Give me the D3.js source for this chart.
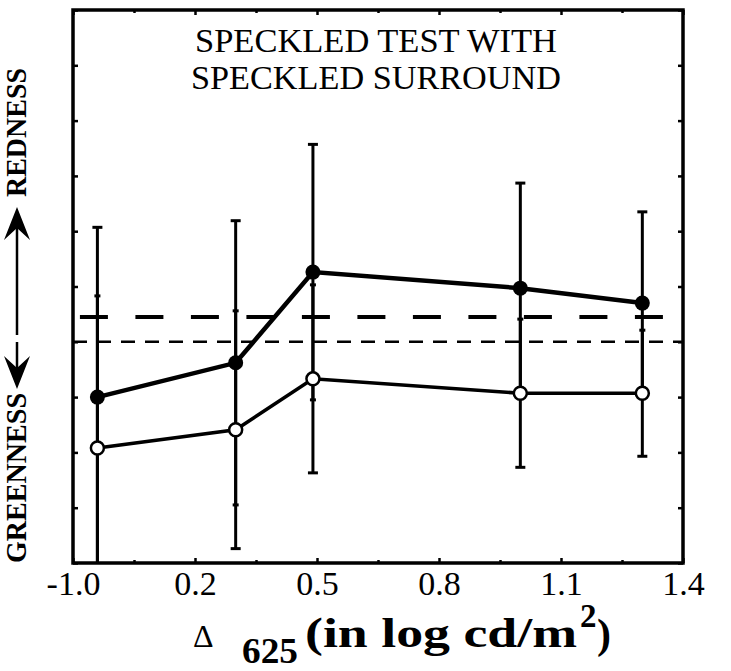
<!DOCTYPE html>
<html>
<head>
<meta charset="utf-8">
<script src="https://cdn.jsdelivr.net/npm/d3@7"></script>
<style>
  body { margin: 0; background: #fff; }
  svg text { font-family: "Liberation Serif", "DejaVu Serif", serif; }
</style>
</head>
<body>
<div class="chart"></div>
<script>
// data
const xTickValues = [-0.1, 0.2, 0.5, 0.8, 1.1, 1.4];
const xTickLabels = ["-1.0", "0.2", "0.5", "0.8", "1.1", "1.4"];
const xMinorTicks = [0.05, 0.35, 0.65, 0.95, 1.25];

const lumLevels  = [-0.04, 0.30, 0.49, 1.00, 1.30];
const filledMean = [-1.00, -0.38, 1.26, 0.97, 0.70];
const filledErr  = [3.07, 2.57, 2.31, 1.90, 1.65];
const openMean   = [-1.92, -1.59, -0.67, -0.93, -0.93];
const openErr    = [2.75, 2.15, 1.70, 1.34, 1.14];

const neutralLevel = 0;           // short dashed line
const surroundLevel = 0.45;       // long dashed line
const surroundRange = [-0.083, 1.351];

var serif = '"Liberation Serif", "DejaVu Serif", serif';

var margin = {top: 10, right: 48, bottom: 108, left: 73},
    width = 731 - margin.left - margin.right,
    height = 671 - margin.top - margin.bottom;

var svg = d3.select(".chart")
            .append("svg")
            .attr("width", 731)
            .attr("height", 671);

var g = svg.append("g")
           .attr("transform", "translate(" + margin.left + "," + margin.top + ")");

var x = d3.scaleLinear().domain([-0.1, 1.4]).range([0, width]);
var y = d3.scaleLinear().domain([-4, 6]).range([height, 0]);

svg.append("clipPath").attr("id", "plot-clip")
   .append("rect").attr("width", width).attr("height", height);

// axes: inward ticks on all four sides
var bottom = g.append("g")
   .attr("transform", "translate(0," + height + ")")
   .call(d3.axisBottom(x).tickValues(xTickValues).tickSize(-5).tickPadding(8)
           .tickFormat((d, i) => xTickLabels[i]));
bottom.attr("font-family", serif);
bottom.selectAll("text").style("font-size", "34px").style("font-family", serif).attr("fill", "#000");

g.append("g").attr("transform", "translate(0," + height + ")")
   .call(d3.axisBottom(x).tickValues(xMinorTicks).tickSize(-3).tickFormat(""));
g.append("g").call(d3.axisTop(x).tickValues(xTickValues).tickSize(-5).tickFormat(""));
g.append("g").call(d3.axisTop(x).tickValues(xMinorTicks).tickSize(-3).tickFormat(""));
g.append("g").call(d3.axisLeft(y).ticks(10).tickSize(-5).tickFormat(""));
g.append("g").attr("transform", "translate(" + width + ",0)")
   .call(d3.axisRight(y).ticks(10).tickSize(-5).tickFormat(""));

g.selectAll(".domain").remove();
g.selectAll(".tick line").attr("stroke", "#000").attr("stroke-width", 2.5);

g.append("rect")
   .attr("width", width).attr("height", height)
   .attr("fill", "none").attr("stroke", "#000").attr("stroke-width", 3.5);

// reference lines
g.append("line")
   .attr("x1", 0).attr("x2", width)
   .attr("y1", y(neutralLevel)).attr("y2", y(neutralLevel))
   .attr("stroke", "#000").attr("stroke-width", 2.5)
   .attr("stroke-dasharray", "14,10");

g.append("line")
   .attr("x1", x(surroundRange[0])).attr("x2", x(surroundRange[1]))
   .attr("y1", y(surroundLevel)).attr("y2", y(surroundLevel))
   .attr("stroke", "#000").attr("stroke-width", 4)
   .attr("stroke-dasharray", "28,27.5");

var filled = lumLevels.map((v, i) => ({x: v, m: filledMean[i], e: filledErr[i]}));
var open = lumLevels.map((v, i) => ({x: v, m: openMean[i], e: openErr[i]}));

// error bars (outer cap wide, inner cap narrow)
function errorBars(data, outerTop) {
  var eb = g.append("g").attr("clip-path", "url(#plot-clip)");
  eb.selectAll("line.bar").data(data).join("line")
    .attr("x1", d => x(d.x)).attr("x2", d => x(d.x))
    .attr("y1", d => y(d.m + d.e)).attr("y2", d => y(d.m - d.e))
    .attr("stroke", "#000").attr("stroke-width", 3);
  eb.selectAll("line.top").data(data).join("line")
    .attr("x1", d => x(d.x) - (outerTop ? 5 : 3)).attr("x2", d => x(d.x) + (outerTop ? 5 : 3))
    .attr("y1", d => y(d.m + d.e)).attr("y2", d => y(d.m + d.e))
    .attr("stroke", "#000").attr("stroke-width", 3);
  eb.selectAll("line.bot").data(data).join("line")
    .attr("x1", d => x(d.x) - (outerTop ? 3 : 5)).attr("x2", d => x(d.x) + (outerTop ? 3 : 5))
    .attr("y1", d => y(d.m - d.e)).attr("y2", d => y(d.m - d.e))
    .attr("stroke", "#000").attr("stroke-width", 3);
}
errorBars(filled, true);
errorBars(open, false);

var line = d3.line().x(d => x(d.x)).y(d => y(d.m));

g.append("path").attr("d", line(open))
   .attr("fill", "none").attr("stroke", "#000").attr("stroke-width", 3.5);
g.append("path").attr("d", line(filled))
   .attr("fill", "none").attr("stroke", "#000").attr("stroke-width", 4.5);

g.selectAll("circle.open").data(open).join("circle")
   .attr("cx", d => x(d.x)).attr("cy", d => y(d.m)).attr("r", 6.5)
   .attr("fill", "#fff").attr("stroke", "#000").attr("stroke-width", 2.5);
g.selectAll("circle.filled").data(filled).join("circle")
   .attr("cx", d => x(d.x)).attr("cy", d => y(d.m)).attr("r", 7.5)
   .attr("fill", "#000");

// title
g.append("text").attr("x", width / 2 - 2).attr("y", 42)
   .attr("text-anchor", "middle").style("font-size", "33px").style("font-family", serif)
   .attr("textLength", 362).attr("lengthAdjust", "spacingAndGlyphs")
   .text("SPECKLED TEST WITH");
g.append("text").attr("x", width / 2 - 2).attr("y", 79)
   .attr("text-anchor", "middle").style("font-size", "33px").style("font-family", serif)
   .attr("textLength", 370).attr("lengthAdjust", "spacingAndGlyphs")
   .text("SPECKLED SURROUND");

// y label with arrows
var yl = svg.append("g");
yl.append("text").attr("transform", "translate(26,563)rotate(-90)")
   .style("font-size", "29px").style("font-weight", "bold").style("font-family", serif)
   .attr("textLength", 170).attr("lengthAdjust", "spacingAndGlyphs")
   .text("GREENNESS");
yl.append("text").attr("transform", "translate(26,197)rotate(-90)")
   .style("font-size", "29px").style("font-weight", "bold").style("font-family", serif)
   .attr("textLength", 129).attr("lengthAdjust", "spacingAndGlyphs")
   .text("REDNESS");
yl.append("line").attr("x1", 17).attr("x2", 17).attr("y1", 226).attr("y2", 335)
   .attr("stroke", "#000").attr("stroke-width", 2.5);
yl.append("line").attr("x1", 17).attr("x2", 17).attr("y1", 342).attr("y2", 370)
   .attr("stroke", "#000").attr("stroke-width", 2.5);
yl.append("path").attr("d", "M17,207L30,240L17,228L4,240Z").attr("fill", "#000");
yl.append("path").attr("d", "M17,389L30,356L17,368L4,356Z").attr("fill", "#000");

// x label
var xl = svg.append("g").style("font-family", serif);
xl.append("text").attr("x", 193).attr("y", 647).style("font-size", "32px").text("Δ");
xl.append("text").attr("x", 242).attr("y", 663).style("font-size", "35px")
   .style("font-weight", "bold").attr("textLength", 56)
   .attr("lengthAdjust", "spacingAndGlyphs").text("625");
xl.append("text").attr("x", 305).attr("y", 647).style("font-size", "42px")
   .style("font-weight", "bold").attr("textLength", 272)
   .attr("lengthAdjust", "spacingAndGlyphs").text("(in log cd/m");
xl.append("text").attr("x", 580).attr("y", 627).style("font-size", "33px")
   .style("font-weight", "bold").text("2");
xl.append("text").attr("x", 597).attr("y", 648).style("font-size", "42px")
   .style("font-weight", "bold").text(")");
</script>
</body>
</html>
